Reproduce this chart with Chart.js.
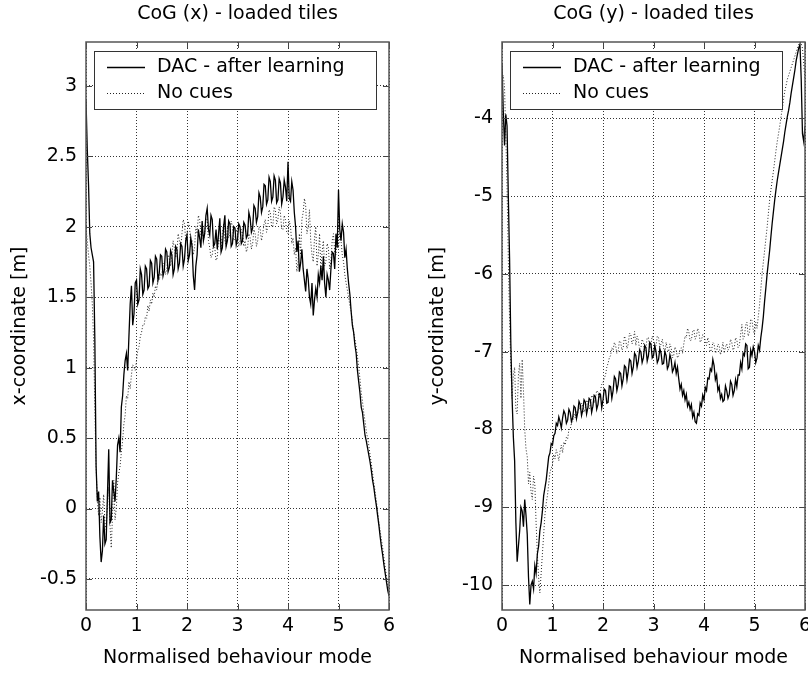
<!DOCTYPE html>
<html>
<head>
<meta charset="utf-8">
<title>CoG - loaded tiles</title>
<script src="https://cdn.jsdelivr.net/npm/chart.js@4.4.1/dist/chart.umd.min.js"></script>
<style>
  body { margin: 0; background: #fff; }
  #wrap { position: relative; width: 808px; height: 675px; }
  canvas { position: absolute; top: 0; }
  #chart-x { left: 0; }
  #chart-y { left: 404px; }
</style>
</head>
<body>
<div id="wrap">
  <canvas id="chart-x" width="404" height="675"></canvas>
  <canvas id="chart-y" width="404" height="675"></canvas>
</div>
<script>
// normalised behaviour mode (shared x samples, one row = 0.5)
var modeX = [
  0, 0.025, 0.05, 0.075, 0.1, 0.125, 0.15, 0.175, 0.2, 0.225, 0.25, 0.275, 0.3, 0.325, 0.35, 0.375, 0.4, 0.425, 0.45, 0.475,
  0.5, 0.525, 0.55, 0.575, 0.6, 0.625, 0.65, 0.675, 0.7, 0.725, 0.75, 0.775, 0.8, 0.825, 0.85, 0.875, 0.9, 0.925, 0.95, 0.975,
  1, 1.025, 1.05, 1.075, 1.1, 1.125, 1.15, 1.175, 1.2, 1.225, 1.25, 1.275, 1.3, 1.325, 1.35, 1.375, 1.4, 1.425, 1.45, 1.475,
  1.5, 1.525, 1.55, 1.575, 1.6, 1.625, 1.65, 1.675, 1.7, 1.725, 1.75, 1.775, 1.8, 1.825, 1.85, 1.875, 1.9, 1.925, 1.95, 1.975,
  2, 2.025, 2.05, 2.075, 2.1, 2.125, 2.15, 2.175, 2.2, 2.225, 2.25, 2.275, 2.3, 2.325, 2.35, 2.375, 2.4, 2.425, 2.45, 2.475,
  2.5, 2.525, 2.55, 2.575, 2.6, 2.625, 2.65, 2.675, 2.7, 2.725, 2.75, 2.775, 2.8, 2.825, 2.85, 2.875, 2.9, 2.925, 2.95, 2.975,
  3, 3.025, 3.05, 3.075, 3.1, 3.125, 3.15, 3.175, 3.2, 3.225, 3.25, 3.275, 3.3, 3.325, 3.35, 3.375, 3.4, 3.425, 3.45, 3.475,
  3.5, 3.525, 3.55, 3.575, 3.6, 3.625, 3.65, 3.675, 3.7, 3.725, 3.75, 3.775, 3.8, 3.825, 3.85, 3.875, 3.9, 3.925, 3.95, 3.975,
  4, 4.025, 4.05, 4.075, 4.1, 4.125, 4.15, 4.175, 4.2, 4.225, 4.25, 4.275, 4.3, 4.325, 4.35, 4.375, 4.4, 4.425, 4.45, 4.475,
  4.5, 4.525, 4.55, 4.575, 4.6, 4.625, 4.65, 4.675, 4.7, 4.725, 4.75, 4.775, 4.8, 4.825, 4.85, 4.875, 4.9, 4.925, 4.95, 4.975,
  5, 5.025, 5.05, 5.075, 5.1, 5.125, 5.15, 5.175, 5.2, 5.225, 5.25, 5.275, 5.3, 5.325, 5.35, 5.375, 5.4, 5.425, 5.45, 5.475,
  5.5, 5.525, 5.55, 5.575, 5.6, 5.625, 5.65, 5.675, 5.7, 5.725, 5.75, 5.775, 5.8, 5.825, 5.85, 5.875, 5.9, 5.925, 5.95, 5.975,
  6
];

// CoG (x) [m]
var dacX = [
  2.90, 2.55, 2.30, 1.95, 1.85, 1.80, 1.75, 1.20, 0.30, 0.05, 0.12, -0.20, -0.38, -0.30, -0.05, -0.25, -0.22, 0.10, 0.42, -0.10,
  -0.08, 0.20, 0.12, 0.05, 0.22, 0.45, 0.50, 0.40, 0.72, 0.80, 0.95, 1.05, 1.10, 0.98, 1.22, 1.45, 1.58, 1.30, 1.38, 1.60,
  1.62, 1.45, 1.48, 1.70, 1.66, 1.52, 1.55, 1.72, 1.70, 1.56, 1.58, 1.76, 1.74, 1.60, 1.64, 1.79, 1.77, 1.62, 1.67, 1.80,
  1.79, 1.65, 1.69, 1.84, 1.82, 1.68, 1.71, 1.83, 1.80, 1.66, 1.70, 1.86, 1.84, 1.70, 1.74, 1.88, 1.86, 1.72, 1.77, 1.90,
  1.94, 1.76, 1.80, 1.92, 1.86, 1.65, 1.55, 1.72, 1.80, 1.98, 1.92, 1.85, 2.04, 1.90, 1.95, 2.08, 2.13, 1.98, 1.94, 2.08,
  2.05, 1.86, 1.88, 1.98, 1.84, 1.95, 2.06, 1.82, 1.85, 2.00, 2.08, 1.86, 1.90, 2.04, 2.02, 1.86, 1.88, 2.00, 1.99, 1.87,
  1.91, 2.02, 2.00, 1.88, 1.90, 2.03, 2.01, 1.92, 1.94, 2.10, 2.06, 1.96, 1.99, 2.15, 2.13, 2.03, 2.07, 2.24, 2.21, 2.10,
  2.14, 2.30, 2.29, 2.16, 2.19, 2.35, 2.32, 2.18, 2.21, 2.36, 2.33, 2.17, 2.19, 2.34, 2.31, 2.16, 2.21, 2.33, 2.28, 2.18,
  2.46, 2.20, 2.18, 2.32, 2.26, 2.10, 2.00, 1.82, 1.90, 1.68, 1.74, 1.84, 1.70, 1.62, 1.54, 1.70, 1.63, 1.50, 1.45, 1.60,
  1.37, 1.48, 1.56, 1.50, 1.66, 1.60, 1.72, 1.62, 1.79, 1.60, 1.50, 1.66, 1.62, 1.55, 1.70, 1.82, 1.81, 1.70, 1.95, 1.85,
  2.26, 1.98, 1.90, 2.02, 1.96, 1.78, 1.84, 1.70, 1.60, 1.52, 1.40, 1.30, 1.25, 1.16, 1.10, 0.98, 0.90, 0.82, 0.72, 0.68,
  0.60, 0.52, 0.48, 0.43, 0.38, 0.33, 0.27, 0.20, 0.15, 0.08, 0.02, -0.05, -0.12, -0.20, -0.27, -0.33, -0.40, -0.46, -0.52, -0.58,
  -0.62
];
var noCuesX = [
  2.00, 1.90, 1.80, 1.72, 1.60, 1.45, 1.20, 0.70, 0.30, 0.05, -0.05, 0.08, -0.10, -0.02, 0.10, -0.10, -0.15, 0.05, 0.15, -0.12,
  -0.28, -0.05, 0.20, -0.08, 0.00, 0.18, 0.25, 0.30, 0.40, 0.48, 0.60, 0.66, 0.80, 0.78, 0.90, 0.85, 0.95, 1.02, 1.00, 0.98,
  1.05, 1.12, 1.15, 1.22, 1.25, 1.30, 1.30, 1.36, 1.35, 1.44, 1.40, 1.48, 1.45, 1.53, 1.50, 1.58, 1.55, 1.64, 1.62, 1.67,
  1.65, 1.74, 1.72, 1.66, 1.70, 1.80, 1.78, 1.72, 1.80, 1.90, 1.85, 1.78, 1.82, 1.95, 1.90, 1.84, 1.95, 2.05, 2.02, 1.90,
  1.95, 2.04, 2.00, 1.86, 1.90, 1.80, 1.85, 2.00, 1.95, 2.08, 2.05, 1.94, 2.00, 1.90, 1.95, 2.06, 2.05, 1.90, 1.85, 1.78,
  1.80, 1.88, 1.85, 1.76, 1.78, 1.92, 1.90, 1.84, 1.95, 2.02, 1.90, 1.86, 2.00, 1.92, 1.95, 2.04, 2.00, 1.90, 1.92, 1.98,
  1.95, 1.86, 1.90, 1.98, 1.95, 1.86, 1.90, 1.82, 1.85, 1.95, 1.92, 1.84, 1.88, 1.98, 1.95, 1.86, 1.90, 2.00, 1.98, 1.90,
  1.95, 2.02, 2.05, 1.96, 2.00, 2.12, 2.10, 2.00, 2.00, 2.14, 2.12, 2.02, 2.05, 2.14, 2.10, 1.98, 1.98, 2.08, 2.05, 1.96,
  1.95, 2.04, 2.00, 1.88, 1.92, 1.80, 1.85, 1.68, 1.75, 1.95, 1.80, 2.05, 2.10, 2.20, 2.15, 1.95, 2.00, 2.12, 1.90, 1.80,
  1.75, 1.92, 2.00, 1.72, 1.80, 1.95, 1.70, 1.82, 1.90, 1.72, 1.75, 1.88, 1.85, 1.70, 1.75, 1.90, 1.95, 1.82, 1.80, 1.90,
  1.85, 1.95, 1.90, 1.80, 1.75, 1.66, 1.60, 1.55, 1.50, 1.44, 1.40, 1.32, 1.25, 1.20, 1.15, 1.08, 1.00, 0.92, 0.82, 0.76,
  0.68, 0.62, 0.55, 0.50, 0.45, 0.38, 0.32, 0.25, 0.18, 0.12, 0.05, -0.02, -0.10, -0.16, -0.22, -0.28, -0.35, -0.42, -0.48, -0.54,
  -0.60
];

// CoG (y) [m]
var dacY = [
  -3.30, -3.90, -4.35, -3.95, -4.10, -5.00, -5.80, -6.90, -7.60, -8.10, -8.40, -9.20, -9.70, -9.50, -9.30, -9.00, -9.05, -9.25, -8.90, -9.10,
  -9.35, -9.90, -10.25, -10.00, -9.95, -10.05, -9.75, -9.85, -9.60, -9.50, -9.30, -9.20, -9.05, -8.85, -8.75, -8.65, -8.50, -8.35, -8.30, -8.18,
  -8.20, -8.08, -8.05, -7.92, -7.95, -7.84, -7.90, -7.98, -7.85, -7.76, -7.80, -7.92, -7.88, -7.74, -7.78, -7.90, -7.85, -7.70, -7.72, -7.86,
  -7.78, -7.64, -7.68, -7.82, -7.75, -7.62, -7.65, -7.80, -7.72, -7.60, -7.62, -7.78, -7.70, -7.56, -7.58, -7.74, -7.68, -7.54, -7.55, -7.72,
  -7.62, -7.48, -7.50, -7.66, -7.65, -7.44, -7.45, -7.60, -7.50, -7.32, -7.35, -7.50, -7.42, -7.26, -7.28, -7.44, -7.35, -7.18, -7.20, -7.36,
  -7.25, -7.10, -7.12, -7.28, -7.20, -7.02, -7.05, -7.20, -7.12, -6.98, -7.00, -7.14, -7.08, -6.92, -6.95, -7.12, -7.05, -6.88, -6.90, -7.08,
  -7.05, -6.92, -7.00, -7.14, -7.10, -6.96, -7.02, -7.16, -7.15, -7.00, -7.05, -7.22, -7.18, -7.04, -7.10, -7.26, -7.22, -7.14, -7.28, -7.20,
  -7.35, -7.48, -7.42, -7.56, -7.50, -7.62, -7.55, -7.70, -7.65, -7.74, -7.68, -7.84, -7.78, -7.90, -7.92, -7.80, -7.82, -7.66, -7.70, -7.56,
  -7.62, -7.46, -7.50, -7.34, -7.35, -7.22, -7.25, -7.10, -7.18, -7.36, -7.30, -7.50, -7.45, -7.60, -7.55, -7.64, -7.62, -7.44, -7.50, -7.60,
  -7.55, -7.38, -7.42, -7.56, -7.50, -7.36, -7.45, -7.30, -7.30, -7.14, -7.22, -7.02, -7.05, -6.90, -6.92, -7.22, -7.20, -6.98, -7.05, -6.94,
  -7.00, -7.14, -7.08, -6.92, -6.98, -6.82, -6.70, -6.55, -6.35, -6.18, -6.00, -5.85, -5.70, -5.52, -5.35, -5.20, -5.05, -4.92, -4.80, -4.70,
  -4.60, -4.50, -4.40, -4.30, -4.18, -4.08, -3.98, -3.90, -3.80, -3.68, -3.58, -3.48, -3.38, -3.26, -3.18, -3.10, -3.05, -3.50, -4.20, -4.30,
  -4.10
];
var noCuesY = [
  -3.50, -3.45, -3.60, -4.20, -4.90, -5.80, -6.60, -7.20, -7.60, -7.30, -7.20, -7.75, -7.80, -7.30, -7.15, -7.60, -7.10, -7.50, -8.00, -8.25,
  -8.35, -8.70, -8.55, -8.80, -8.90, -8.60, -8.70, -9.20, -9.60, -9.90, -10.10, -9.85, -9.60, -9.35, -9.10, -8.95, -8.85, -8.70, -8.55, -8.50,
  -8.45, -8.32, -8.38, -8.26, -8.32, -8.40, -8.28, -8.20, -8.30, -8.16, -8.20, -8.10, -8.12, -8.00, -8.00, -7.92, -7.90, -7.80, -7.85, -7.76,
  -7.78, -7.70, -7.75, -7.66, -7.70, -7.78, -7.72, -7.62, -7.65, -7.74, -7.68, -7.56, -7.58, -7.66, -7.60, -7.50, -7.52, -7.60, -7.50, -7.42,
  -7.40, -7.34, -7.30, -7.20, -7.15, -7.08, -7.05, -6.95, -6.98, -6.88, -6.92, -7.02, -7.00, -6.86, -6.88, -6.98, -6.95, -6.80, -6.85, -6.96,
  -6.90, -6.76, -6.78, -6.90, -6.85, -6.74, -6.92, -6.80, -6.85, -6.98, -6.95, -6.84, -6.88, -7.00, -6.95, -6.82, -6.82, -6.96, -6.90, -6.80,
  -6.85, -6.96, -6.92, -6.80, -6.82, -6.94, -6.90, -6.84, -6.95, -7.04, -6.88, -6.96, -7.00, -6.90, -6.95, -7.08, -7.05, -6.94, -6.98, -7.08,
  -7.05, -6.98, -6.95, -7.02, -6.90, -6.80, -6.82, -6.70, -6.75, -6.86, -6.85, -6.74, -6.72, -6.84, -6.80, -6.70, -6.75, -6.88, -6.85, -6.78,
  -6.80, -6.86, -6.92, -6.82, -6.88, -7.00, -6.98, -6.88, -6.90, -7.02, -7.00, -6.90, -6.92, -7.04, -6.98, -6.88, -7.02, -6.94, -6.90, -6.98,
  -6.95, -6.84, -6.88, -6.98, -6.95, -6.82, -6.85, -6.95, -6.92, -6.78, -6.65, -6.84, -6.80, -6.66, -6.62, -6.80, -6.75, -6.58, -6.60, -6.72,
  -6.78, -6.62, -6.70, -6.55, -6.40, -6.20, -6.00, -5.85, -5.70, -5.55, -5.40, -5.22, -5.05, -4.92, -4.80, -4.68, -4.55, -4.42, -4.30, -4.20,
  -4.10, -3.98, -3.88, -3.76, -3.65, -3.58, -3.50, -3.45, -3.40, -3.35, -3.30, -3.25, -3.20, -3.15, -3.10, -3.05, -3.02, -3.04, -3.10, -3.30,
  -3.50
];

var seriesLabels = ['DAC - after learning', 'No cues'];
var modeTicks = [0, 1, 2, 3, 4, 5, 6];
var xCoordTicks = [-0.5, 0, 0.5, 1, 1.5, 2, 2.5, 3];
var yCoordTicks = [-10, -9, -8, -7, -6, -5, -4];

Chart.defaults.font.family = "'DejaVu Sans', 'Liberation Sans', sans-serif";
Chart.defaults.font.size = 19;
Chart.defaults.color = '#000';

// MATLAB style box, inward ticks and boxed legend
var matlabFrame = {
  id: 'matlabFrame',
  afterDatasetsDraw: function(chart, args, opts) {
    var ctx = chart.ctx;
    var a = chart.chartArea;
    var xs = chart.scales.x, ys = chart.scales.y;
    var tl = 6;

    ctx.save();
    ctx.strokeStyle = '#444';
    ctx.lineWidth = 1;
    ctx.beginPath();
    xs.ticks.forEach(function(t) {
      var px = Math.round(xs.getPixelForValue(t.value)) + 0.5;
      ctx.moveTo(px, a.bottom); ctx.lineTo(px, a.bottom - tl);
      ctx.moveTo(px, a.top); ctx.lineTo(px, a.top + tl);
    });
    ys.ticks.forEach(function(t) {
      var py = Math.round(ys.getPixelForValue(t.value)) + 0.5;
      ctx.moveTo(a.left, py); ctx.lineTo(a.left + tl, py);
      ctx.moveTo(a.right, py); ctx.lineTo(a.right - tl, py);
    });
    ctx.stroke();

    ctx.strokeStyle = '#555';
    ctx.lineWidth = 1.5;
    ctx.strokeRect(a.left, a.top, a.right - a.left, a.bottom - a.top);

    // legend
    var bx = a.left + 8, by = a.top + 9, bw = opts.legendWidth, bh = 58;
    ctx.fillStyle = '#fff';
    ctx.fillRect(bx, by, bw, bh);
    ctx.strokeStyle = '#333';
    ctx.lineWidth = 1;
    ctx.strokeRect(bx + 0.5, by + 0.5, bw, bh);

    ctx.font = "19px 'DejaVu Sans', sans-serif";
    ctx.textBaseline = 'middle';
    ctx.textAlign = 'left';
    chart.data.datasets.forEach(function(ds, i) {
      var cy = by + 16 + i * 26 + 0.5;
      ctx.beginPath();
      ctx.setLineDash(ds.borderDash || []);
      ctx.strokeStyle = ds.borderColor;
      ctx.lineWidth = ds.borderWidth;
      ctx.moveTo(bx + 13, cy);
      ctx.lineTo(bx + 51, cy);
      ctx.stroke();
      ctx.setLineDash([]);
      ctx.fillStyle = '#000';
      ctx.fillText(ds.label, bx + 63, cy);
    });
    ctx.restore();
  }
};

function points(ys) {
  return modeX.map(function(x, i) {
    return { x: x, y: ys[i] };
  });
}

function plainLabel(value) {
  return String(value);
}

function makeChart(id, title, yTitle, yTicks, yMin, yMax, dac, noCues, dims) {
  var ctx = document.getElementById(id).getContext('2d');
  return new Chart(ctx, {
    type: 'line',
    data: {
      datasets: [{
        label: seriesLabels[0],
        data: points(dac),
        borderColor: '#000',
        borderWidth: 1.3,
        pointRadius: 0,
        tension: 0
      }, {
        label: seriesLabels[1],
        data: points(noCues),
        borderColor: '#222',
        borderWidth: 1,
        borderDash: [1, 2],
        pointRadius: 0,
        tension: 0
      }]
    },
    options: {
      responsive: false,
      animation: false,
      layout: { padding: { left: 0, right: dims.padRight, top: 0, bottom: 0 } },
      plugins: {
        legend: { display: false },
        tooltip: { enabled: false },
        title: {
          display: true,
          text: title,
          fullSize: false,
          color: '#000',
          font: { size: 19, weight: 'normal' },
          padding: { top: 3, bottom: 16.2 }
        },
        matlabFrame: { legendWidth: dims.legendWidth }
      },
      scales: {
        x: {
          type: 'linear',
          position: 'bottom',
          min: 0,
          max: 6,
          afterBuildTicks: function(scale) {
            scale.ticks = modeTicks.map(function(v) { return { value: v }; });
          },
          afterFit: function(scale) {
            scale.height = 65;
            scale.paddingLeft = 0;
            scale.paddingRight = 0;
          },
          grid: { color: '#333', lineWidth: 1, drawTicks: false },
          border: { display: false, dash: [1, 2] },
          ticks: { padding: 5, color: '#000', maxRotation: 0, callback: plainLabel },
          title: {
            display: true,
            text: 'Normalised behaviour mode',
            color: '#000',
            padding: { top: 0, bottom: 5.6 }
          }
        },
        y: {
          type: 'linear',
          min: yMin,
          max: yMax,
          afterBuildTicks: function(scale) {
            scale.ticks = yTicks.map(function(v) { return { value: v }; });
          },
          afterFit: function(scale) {
            scale.width = dims.axisWidth;
            scale.paddingTop = 0;
            scale.paddingBottom = 0;
          },
          grid: { color: '#333', lineWidth: 1, drawTicks: false },
          border: { display: false, dash: [1, 2] },
          ticks: { padding: 9, color: '#000', callback: plainLabel },
          title: {
            display: true,
            text: yTitle,
            color: '#000',
            padding: { top: dims.titlePad, bottom: 0 }
          }
        }
      }
    },
    plugins: [matlabFrame]
  });
}

window.chartX = makeChart('chart-x', 'CoG (x) - loaded tiles', 'x-coordinate [m]',
  xCoordTicks, -0.72, 3.31, dacX, noCuesX,
  { axisWidth: 86, padRight: 15, titlePad: 8.6, legendWidth: 282 });

window.chartY = makeChart('chart-y', 'CoG (y) - loaded tiles', 'y-coordinate [m]',
  yCoordTicks, -10.32, -3.02, dacY, noCuesY,
  { axisWidth: 98, padRight: 3, titlePad: 22.6, legendWidth: 272 });
</script>
</body>
</html>
